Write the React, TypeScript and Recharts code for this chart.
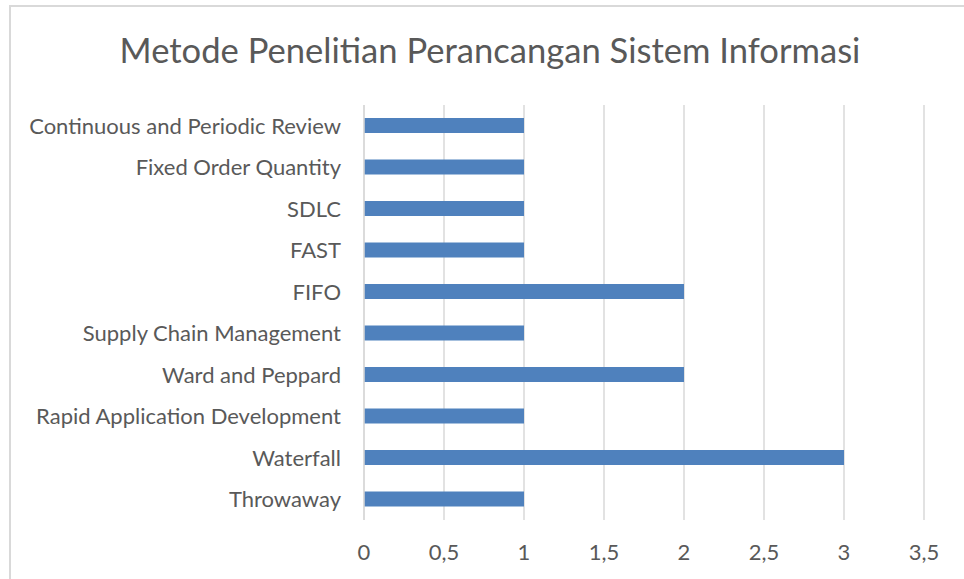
import React from 'react';
import { BarChart, Bar, XAxis, YAxis, CartesianGrid } from 'recharts';

const categories = [
  'Continuous and Periodic Review',
  'Fixed Order Quantity',
  'SDLC',
  'FAST',
  'FIFO',
  'Supply Chain Management',
  'Ward and Peppard',
  'Rapid Application Development',
  'Waterfall',
  'Throwaway',
];
const counts = [1, 1, 1, 1, 2, 1, 2, 1, 3, 1];
const xTicks = [0, 0.5, 1, 1.5, 2, 2.5, 3, 3.5];

const data = categories.map((name, i) => ({ name, value: counts[i] }));

const FONT = 'Lato, "Open Sans", sans-serif';
const TEXT = '#595959';
const GRID = '#d9d9d9';

export default function App() {
  return (
    <div style={{ position: 'absolute', left: 0, top: 0, width: 964, height: 579, overflow: 'hidden', background: '#fff', fontFamily: FONT }}>
      <div style={{ position: 'absolute', left: 9, top: 5, width: 1000, height: 620, border: `2px solid ${GRID}`, boxSizing: 'border-box' }} />
      <div style={{ position: 'absolute', left: 0, top: 29, width: 980, textAlign: 'center', fontSize: 34.6, color: TEXT, lineHeight: '42px' }}>
        Metode Penelitian Perancangan Sistem Informasi
      </div>
      <div style={{ position: 'absolute', left: 0, top: 0 }}>
        <BarChart
          width={964}
          height={579}
          data={data}
          layout="vertical"
          margin={{ top: 105, right: 40, bottom: 0, left: 0 }}
          barCategoryGap={0}
        >
          <CartesianGrid horizontal={false} stroke={GRID} strokeWidth={1.5} />
          <XAxis
            type="number"
            domain={[0, 3.5]}
            ticks={xTicks}
            interval={0}
            axisLine={false}
            tickLine={false}
            tickSize={0}
            tickMargin={24}
            height={59}
            tick={{ fill: TEXT, fontSize: 22, fontFamily: FONT }}
            tickFormatter={(v: number) => String(v).replace('.', ',')}
          />
          <YAxis
            type="category"
            dataKey="name"
            width={364}
            axisLine={{ stroke: GRID, strokeWidth: 1.5 }}
            tickLine={false}
            tickSize={0}
            tickMargin={23}
            interval={0}
            tick={{ fill: TEXT, fontSize: 22, fontFamily: FONT }}
          />
          <Bar dataKey="value" fill="#4F81BD" barSize={15} isAnimationActive={false} />
        </BarChart>
      </div>
    </div>
  );
}
